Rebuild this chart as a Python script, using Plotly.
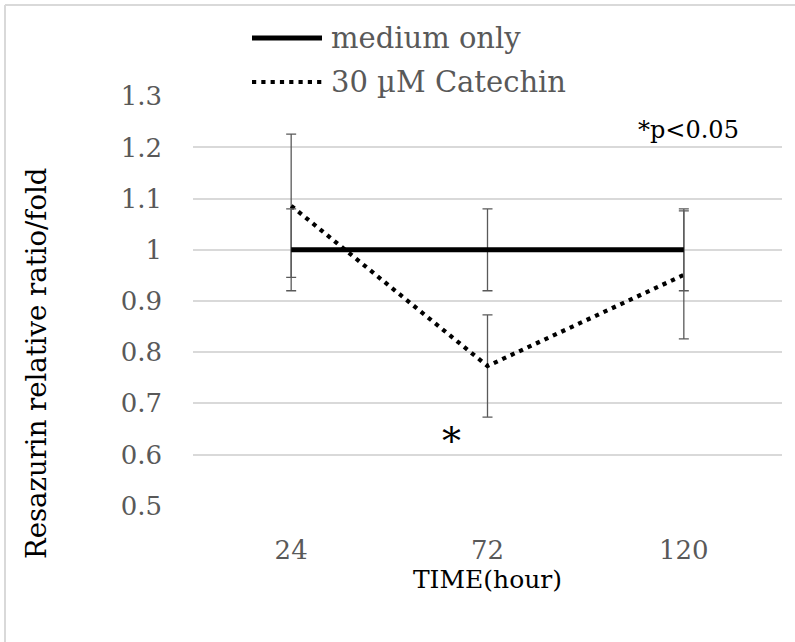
import plotly.graph_objects as go

# Time points (hours) and series
time_labels = ["24", "72", "120"]
medium_only = [1.0, 1.0, 1.0]
medium_err = [0.08, 0.08, 0.08]
catechin = [1.086, 0.773, 0.951]
catechin_err = [0.14, 0.10, 0.125]

series_names = ["medium only", "30 µM Catechin"]
y_ticks = [0.5, 0.6, 0.7, 0.8, 0.9, 1.0, 1.1, 1.2, 1.3]
y_tick_text = ["0.5", "0.6", "0.7", "0.8", "0.9", "1", "1.1", "1.2", "1.3"]

W, H = 795, 642
L, R, T, B = 193, 13, 96, 136
PW, PH = W - L - R, H - T - B

FONT = "DejaVu Serif"
GREY = "#595959"
DOTS = "4.2px,5.1px"


def px(x):
    return (x - L) / PW


def py(y):
    return (H - B - y) / PH


fig = go.Figure()

fig.add_trace(go.Scatter(
    x=time_labels, y=catechin, mode="lines", name=series_names[1],
    line=dict(color="black", width=4.2, dash=DOTS),
    error_y=dict(type="data", array=catechin_err, visible=True,
                 color=GREY, thickness=1.3, width=5),
    showlegend=False,
))
fig.add_trace(go.Scatter(
    x=time_labels, y=medium_only, mode="lines", name=series_names[0],
    line=dict(color="black", width=5),
    error_y=dict(type="data", array=medium_err, visible=True,
                 color=GREY, thickness=1.3, width=5),
    showlegend=False,
))

# Legend drawn at the top of the chart
legend_rows = [
    (series_names[0], 38, dict(color="black", width=5)),
    (series_names[1], 82, dict(color="black", width=4.2, dash=DOTS)),
]
for name, ypix, ln in legend_rows:
    fig.add_shape(type="line", xref="paper", yref="paper",
                  x0=px(252), x1=px(322), y0=py(ypix), y1=py(ypix), line=ln)
    fig.add_annotation(text=name, xref="paper", yref="paper",
                       x=px(329), y=py(ypix), xanchor="left", yanchor="middle",
                       showarrow=False, font=dict(family=FONT, size=29, color=GREY))

# Significance notes
fig.add_annotation(text="*p<0.05", xref="paper", yref="paper",
                   x=px(688), y=py(130), xanchor="center", yanchor="middle",
                   showarrow=False, font=dict(family=FONT, size=24, color="black"))
fig.add_annotation(text="*", x=time_labels.index("72"), y=0.634, xref="x", yref="y",
                   xshift=-36, yshift=-4,
                   showarrow=False, font=dict(family=FONT, size=38, color="black"))

# Y axis title
fig.add_annotation(text="Resazurin relative ratio/fold", xref="paper", yref="paper",
                   x=px(36), y=py(364), textangle=-90, xanchor="center", yanchor="middle",
                   showarrow=False, font=dict(family=FONT, size=27.5, color="black"))

# Chart frame
fig.add_shape(type="line", xref="paper", yref="paper",
              x0=px(5), x1=px(W + 5), y0=py(5), y1=py(5),
              line=dict(color="#d9d9d9", width=2))
fig.add_shape(type="line", xref="paper", yref="paper",
              x0=px(5), x1=px(5), y0=py(5), y1=py(H + 5),
              line=dict(color="#d9d9d9", width=2))

fig.update_layout(
    width=W, height=H,
    margin=dict(l=L, r=R, t=T, b=B),
    paper_bgcolor="white", plot_bgcolor="white",
    showlegend=False,
    xaxis=dict(
        type="category", range=[-0.5, 2.5],
        showgrid=False, showline=False, zeroline=False,
        ticks="", ticklabelstandoff=26,
        tickfont=dict(family=FONT, size=26, color=GREY),
        title=dict(text="TIME(hour)", standoff=4,
                   font=dict(family=FONT, size=25, color="black")),
    ),
    yaxis=dict(
        range=[0.4995, 1.3005], tickvals=y_ticks, ticktext=y_tick_text,
        showgrid=True, gridcolor="#d9d9d9", gridwidth=1.5,
        zeroline=False, showline=False, ticks="", ticklabelstandoff=30,
        tickfont=dict(family=FONT, size=26, color=GREY),
    ),
)

fig.write_html("out.html")
